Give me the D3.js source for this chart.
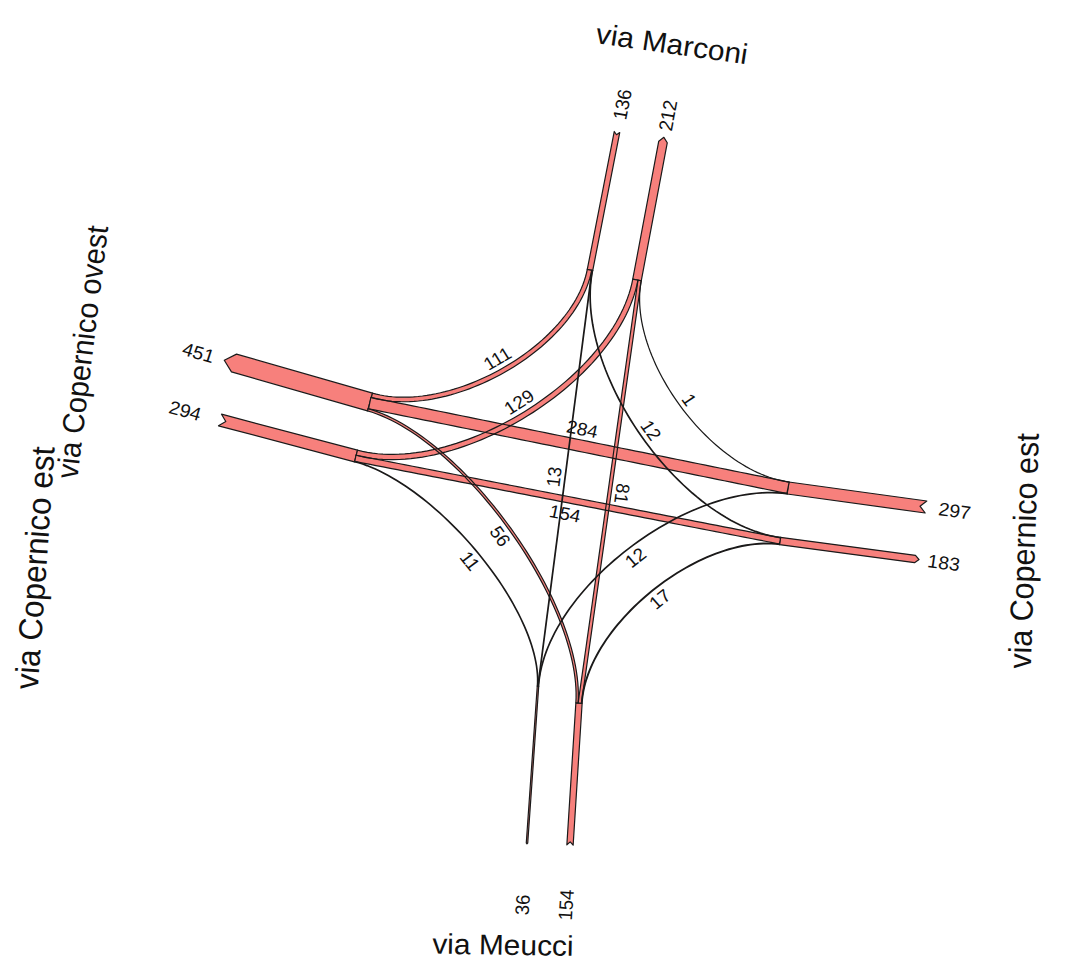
<!DOCTYPE html>
<html>
<head>
<meta charset="utf-8">
<script src="https://cdn.jsdelivr.net/npm/d3@7"></script>
<style>
  body { margin: 0; background: #fff; }
  text { font-family: "Liberation Sans", Arial, Helvetica, sans-serif; fill: #111; }
</style>
</head>
<body>
<svg id="chart" width="1070" height="969"></svg>
<script>
// ---- data: vehicle counts per lane and per turning movement ----
var streets    = ["via Marconi", "via Copernico est", "via Meucci", "via Copernico ovest"];
var laneIds    = ["M1", "M2", "E1", "E2", "S1", "S2", "W1", "W2"];
var laneStreet = [0, 0, 1, 1, 2, 2, 3, 3];
var laneCounts = [136, 212, 297, 183, 36, 154, 451, 294];

var flowFrom   = ["W1", "W2", "W1", "W2", "S1", "M2", "M1", "M2", "W1", "W2", "S1", "S2"];
var flowTo     = ["M1", "M2", "E1", "E2", "M1", "S2", "E2", "E1", "S2", "S1", "E1", "E2"];
var flowCounts = [111, 129, 284, 154, 13, 81, 12, 1, 56, 11, 12, 17];

// ---- layout: where the lanes sit on the sketch (px) ----
var laneInner = [[590,270],[637,280],[788,488],[780,541],[538,686],[579,703],[370,402],[356,456]];
var laneOuter = [[617,132],[663,142],[926,507],[915,559],[527,843],[570,845],[234,363],[220,420]];
var laneEnd   = ["notch","arrow","notch","arrow","arrow","notch","arrow","notch"];
var labelDist = [28, 27, 29, 29, 62, 60, 37, 36];
// street name labels: which street, x, y, angle on screen, font size
var streetLabels = [[0, 672, 44, 8, 28.5], [1, 1024, 551, -88, 30.5], [2, 503, 945, 1, 28.5],
                    [3, 82, 352, -83, 29], [1, 35, 568, -86, 31.5]];

var fill = "#f7807c", ink = "#1a1a1a";
var SX = 1.05;   // the original picture is a little stretched sideways
var pull = 0.42; // how far the bezier handles reach toward the lane crossing
var labelT = 0.5;

var svg = d3.select("#chart");
var wScale = d3.scaleLinear().domain([0, 451]).range([0, 18.4]);

function sub(a, b) { return [a[0] - b[0], a[1] - b[1]]; }
function add(a, b) { return [a[0] + b[0], a[1] + b[1]]; }
function mul(a, s) { return [a[0] * s, a[1] * s]; }
function unit(a) { var l = Math.hypot(a[0], a[1]); return [a[0] / l, a[1] / l]; }
function cross(a, b) { return a[0] * b[1] - a[1] * b[0]; }
function dot(a, b) { return a[0] * b[0] + a[1] * b[1]; }
function lerp(a, b, t) { return [a[0] + (b[0] - a[0]) * t, a[1] + (b[1] - a[1]) * t]; }

function bez(p, t) {
  var s = 1 - t;
  return [s*s*s*p[0][0] + 3*s*s*t*p[1][0] + 3*s*t*t*p[2][0] + t*t*t*p[3][0],
          s*s*s*p[0][1] + 3*s*s*t*p[1][1] + 3*s*t*t*p[2][1] + t*t*t*p[3][1]];
}
function bezD(p, t) {
  var s = 1 - t;
  return [3*s*s*(p[1][0]-p[0][0]) + 6*s*t*(p[2][0]-p[1][0]) + 3*t*t*(p[3][0]-p[2][0]),
          3*s*s*(p[1][1]-p[0][1]) + 6*s*t*(p[2][1]-p[1][1]) + 3*t*t*(p[3][1]-p[2][1])];
}

// text rotated on screen by a degrees, after the sideways stretch
function textTransform(x, y, a) {
  var r = a * Math.PI / 180;
  var a2 = Math.atan2(Math.sin(r), Math.cos(r) / SX) * 180 / Math.PI;
  return "translate(" + x + "," + y + ") scale(" + SX + ",1) rotate(" + a2 + ")";
}

var lanes = laneIds.map(function(id, i) {
  var uIn = unit(sub(laneInner[i], laneOuter[i]));
  return {id: id, count: laneCounts[i], inner: laneInner[i], outer: laneOuter[i],
          uIn: uIn, n: [-uIn[1], uIn[0]], w: wScale(laneCounts[i]), end: laneEnd[i], dist: labelDist[i]};
});
var byId = {};
lanes.forEach(function(l) { byId[l.id] = l; });

var flows = flowCounts.map(function(v, i) {
  return {a: byId[flowFrom[i]], b: byId[flowTo[i]], v: v, w: wScale(v)};
});

// stack the ribbons side by side at each lane end
lanes.forEach(function(L) {
  var fs = flows.filter(function(f) { return f.a === L || f.b === L; }).map(function(f) {
    var other = f.a === L ? f.b : f.a;
    return {f: f, isA: f.a === L, key: dot(L.n, unit(sub(other.inner, L.inner)))};
  });
  fs.sort(function(p, q) { return p.key - q.key; });
  var acc = -d3.sum(fs, function(d) { return d.f.w; }) / 2;
  fs.forEach(function(d) {
    var off = acc + d.f.w / 2;
    acc += d.f.w;
    if (d.isA) d.f.offA = off; else d.f.offB = off;
  });
});

var centre = [d3.mean(lanes, function(l) { return l.inner[0]; }), d3.mean(lanes, function(l) { return l.inner[1]; })];

flows.forEach(function(f) {
  var A = f.a, B = f.b;
  var p0 = add(A.inner, mul(A.n, f.offA));
  var p3 = add(B.inner, mul(B.n, f.offB));
  var c = cross(A.uIn, B.uIn), p1, p2;
  if (Math.abs(c) < 0.3) {
    p1 = lerp(p0, p3, 1 / 3);
    p2 = lerp(p0, p3, 2 / 3);
  } else {
    var d = sub(B.inner, A.inner);
    var s = cross(d, B.uIn) / c, r = cross(d, A.uIn) / c;
    p1 = add(p0, mul(A.uIn, pull * s));
    p2 = add(p3, mul(B.uIn, pull * r));
  }
  f.ctrl = [p0, p1, p2, p3];

  var left = [], right = [], N = 60;
  for (var i = 0; i <= N; i++) {
    var t = i / N, p = bez(f.ctrl, t), n = unit(bezD(f.ctrl, t));
    var nn = [-n[1], n[0]];
    left.push(add(p, mul(nn, f.w / 2)));
    right.push(add(p, mul(nn, -f.w / 2)));
  }
  f.poly = left.concat(right.reverse());
});

var line = d3.line();

// lanes
svg.append("g").selectAll("path")
  .data(lanes)
  .enter()
  .append("path")
    .attr("d", function(L) {
      var uOut = mul(L.uIn, -1), h = L.w / 2;
      var tip = L.end === "arrow" ? add(L.outer, mul(uOut, L.w * 0.55)) : add(L.outer, mul(uOut, -L.w * 0.5));
      var pts = [add(L.inner, mul(L.n, h)), add(L.outer, mul(L.n, h)), tip,
                 add(L.outer, mul(L.n, -h)), add(L.inner, mul(L.n, -h))];
      return line(pts) + "Z";
    })
    .attr("fill", fill)
    .attr("stroke", ink)
    .attr("stroke-width", 1.2)
    .attr("stroke-linejoin", "round");

// flow ribbons: fills first, then all outlines so crossings stay visible
svg.append("g").selectAll("path")
  .data(flows)
  .enter()
  .append("path")
    .attr("d", function(f) { return line(f.poly) + "Z"; })
    .attr("fill", fill)
    .attr("stroke", "none");

svg.append("g").selectAll("path")
  .data(flows)
  .enter()
  .append("path")
    .attr("d", function(f) { return line(f.poly) + "Z"; })
    .attr("fill", "none")
    .attr("stroke", ink)
    .attr("stroke-width", 1.2);

// lane totals
svg.append("g").selectAll("text")
  .data(lanes)
  .enter()
  .append("text")
    .attr("transform", function(L) {
      var uOut = mul(L.uIn, -1);
      var p = add(L.outer, mul(uOut, L.dist));
      var a = Math.atan2(uOut[1], uOut[0]) * 180 / Math.PI;
      if (a > 90) a -= 180;
      if (a <= -90) a += 180;
      return textTransform(p[0], p[1], a);
    })
    .attr("text-anchor", "middle")
    .attr("dominant-baseline", "central")
    .style("font-size", "18.5px")
    .text(function(L) { return L.count; });

// flow values
svg.append("g").selectAll("text")
  .data(flows)
  .enter()
  .append("text")
    .attr("transform", function(f) {
      var p = bez(f.ctrl, labelT), d = unit(bezD(f.ctrl, labelT));
      var nn = [-d[1], d[0]];
      var side = dot(nn, sub(p, centre)) >= 0 ? 1 : -1;
      var q = add(p, mul(nn, side * (f.w / 2 + 11)));
      var a = Math.atan2(d[1], d[0]) * 180 / Math.PI;
      if (a > 100) a -= 180;
      if (a <= -100) a += 180;
      return textTransform(q[0], q[1], a);
    })
    .attr("text-anchor", "middle")
    .attr("dominant-baseline", "central")
    .style("font-size", "18px")
    .text(function(f) { return f.v; });

// street names
svg.append("g").selectAll("text")
  .data(streetLabels)
  .enter()
  .append("text")
    .attr("transform", function(s) { return textTransform(s[1], s[2], s[3]); })
    .attr("text-anchor", "middle")
    .attr("dominant-baseline", "central")
    .style("font-size", function(s) { return s[4] + "px"; })
    .text(function(s) { return streets[s[0]]; });
</script>
</body>
</html>
